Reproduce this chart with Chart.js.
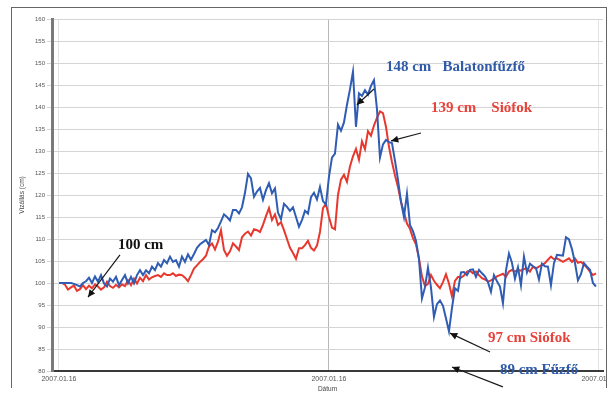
<!DOCTYPE html>
<html>
<head>
<meta charset="utf-8">
<script src="https://cdn.jsdelivr.net/npm/chart.js@4/dist/chart.umd.min.js"></script>
<style>
  html, body { margin: 0; padding: 0; background: #fff; }
  #wrap { position: relative; width: 611px; height: 396px; overflow: hidden; background: #fff; }
  #frame { position: absolute; left: 11px; top: 7px; width: 596px; height: 381px;
           border: 1.5px solid #666; border-bottom: none; box-sizing: border-box; }
  #c { position: absolute; left: 0; top: 0; }
</style>
</head>
<body>
<div id="wrap">
  <div id="frame"></div>
  <canvas id="c" width="606" height="396"></canvas>
</div>
<script>
// Time axis: hours from the first reading, one reading every 8 minutes
const sampleMinutes = 8;
const tickHours = [0, 12, 24];
const tickLabels = ['2007.01.16', '2007.01.16', '2007.01.17'];

// Water level (cm), Balatonfűzfő gauge
const balatonfuzfo = [
  100.0, 100.0, 100.0, 100.0, 100.0, 99.8, 99.5, 99.2, 100.0, 100.4,
  101.2, 100.0, 101.5, 100.3, 101.8, 99.9, 99.2, 101.0, 100.3, 101.4,
  99.5, 100.7, 101.8, 99.9, 101.4, 99.9, 101.8, 102.9, 101.8, 102.9,
  102.2, 103.7, 102.9, 104.5, 103.7, 105.2, 104.5, 106.0, 104.8, 105.2,
  103.7, 106.0, 104.8, 106.5, 105.3, 106.6, 108.0, 108.8, 109.3, 109.8,
  108.6, 112.0, 111.5, 112.5, 114.0, 115.6, 115.0, 114.2, 116.6, 116.6,
  115.8, 117.2, 120.5, 124.8, 123.8, 119.6, 120.8, 121.6, 118.9, 121.1,
  122.7, 120.4, 121.5, 116.0, 114.5, 118.0, 117.3, 116.4, 117.2, 115.0,
  112.8, 114.3, 116.4, 115.8, 119.5, 120.5, 119.0, 121.8, 118.6, 117.8,
  124.2, 128.5, 129.4, 136.0, 134.6, 136.5, 140.5, 144.0, 148.0, 135.5,
  143.1, 142.5, 143.8, 142.8, 144.8, 146.1, 139.5, 128.5, 131.5, 132.5,
  132.0, 131.8, 127.8, 123.5, 118.5, 115.0, 120.3, 113.2, 111.8, 109.6,
  105.5, 96.5, 99.0, 103.5, 99.0, 92.3, 95.2, 96.0, 94.8, 92.0,
  89.0, 94.3, 98.8, 98.2, 102.4, 102.5, 101.8, 103.0, 103.1, 101.4,
  103.0, 102.2, 101.5, 100.2, 98.0, 101.8, 100.4, 99.2, 95.4, 102.8,
  106.7, 104.6, 101.0, 103.6, 99.5, 106.0, 102.4, 104.4, 103.8, 103.4,
  100.8, 104.4, 103.8, 103.7, 99.5, 104.5, 106.4, 106.3, 106.2, 110.4,
  109.9, 107.7, 104.6, 100.6, 102.0, 104.5, 103.7, 103.0, 100.0, 99.2
];

// Water level (cm), Siófok gauge
const siofok = [
  100.0, 100.0, 99.6, 98.5, 99.0, 99.4, 98.2, 98.6, 99.5, 98.6,
  99.4, 98.8, 99.7, 99.2, 98.5, 99.0, 100.3, 99.3, 98.9, 99.6,
  99.0, 99.7, 99.3, 100.6, 99.5, 101.0, 99.9, 101.2, 100.4, 101.8,
  100.8, 101.3, 101.6, 101.8, 101.4, 102.2, 101.8, 101.8, 102.2, 101.6,
  101.9, 101.8, 101.2, 100.4, 101.8, 103.3, 104.0, 104.8, 105.4, 106.2,
  108.3, 109.0, 107.6, 109.4, 112.0, 107.5, 106.2, 107.2, 109.0, 108.3,
  107.5, 110.4, 111.2, 111.7, 110.8, 112.2, 112.0, 111.6, 113.2, 115.2,
  117.0, 114.3, 115.6, 113.2, 113.8, 112.0, 110.0, 108.0, 106.8, 105.5,
  107.9, 107.9, 108.6, 109.6, 108.0, 107.4, 108.5, 111.6, 117.0, 118.0,
  115.0, 112.6, 112.2, 120.0, 123.5, 124.6, 123.0, 126.5, 128.8, 130.5,
  128.0, 132.2, 130.4, 134.5, 133.5, 135.8, 137.5, 139.0, 138.6, 135.5,
  131.0, 127.5, 124.5, 121.8, 118.5, 116.0, 113.5, 112.3, 110.2, 108.8,
  105.6, 101.5, 99.3, 99.8, 101.8, 100.5, 99.6, 98.8, 100.2, 102.0,
  99.9, 97.0, 100.5, 101.4, 101.2, 101.7, 102.6, 102.8, 102.2, 102.6,
  101.8, 101.1, 100.8, 100.3, 100.6, 101.0, 101.5, 101.8, 102.1, 101.4,
  102.6, 103.0, 102.6, 103.0, 102.8, 103.2, 103.3, 102.6, 103.7, 103.3,
  103.7, 104.1, 104.5, 105.3, 106.0, 105.4, 105.6, 105.2, 104.8, 105.2,
  105.6, 104.8, 105.6, 104.6, 104.8, 104.2, 103.5, 102.6, 101.8, 102.2
];

// Callouts: text anchor [hours, cm] (left edge, vertical middle) and arrow [fromH, fromCm, toH, toCm]
const notes = [
  { text: '100 cm', color: '#111111', at: [2.62, 108.6], arrow: [2.71, 106.4, 1.29, 96.8] },
  { text: '148 cm   Balatonfűzfő', color: '#2f5aa8', at: [14.53, 149.1], arrow: [14.0, 144.1, 13.24, 140.5] },
  { text: '139 cm    Siófok', color: '#e8423a', at: [16.53, 139.8], arrow: [16.09, 134.1, 14.76, 132.3] },
  { text: '97 cm Siófok', color: '#e8423a', at: [19.07, 87.5], arrow: [19.16, 84.3, 17.38, 88.6] },
  { text: '89 cm Fűzfő', color: '#2f5aa8', at: [19.6, 80.2], arrow: [19.73, 76.4, 17.47, 80.9] }
];

const toPoints = arr => arr.map((v, i) => ({ x: i * sampleMinutes / 60, y: v }));

const calloutPlugin = {
  id: 'callouts',
  afterDatasetsDraw(chart) {
    const { ctx, scales: { x, y } } = chart;
    ctx.save();
    notes.forEach(n => {
      const x1 = x.getPixelForValue(n.arrow[0]), y1 = y.getPixelForValue(n.arrow[1]);
      const x2 = x.getPixelForValue(n.arrow[2]), y2 = y.getPixelForValue(n.arrow[3]);
      ctx.strokeStyle = '#1a1a1a';
      ctx.lineWidth = 1.2;
      ctx.beginPath();
      ctx.moveTo(x1, y1);
      ctx.lineTo(x2, y2);
      ctx.stroke();
      const a = Math.atan2(y2 - y1, x2 - x1);
      const head = 8;
      ctx.fillStyle = '#111';
      ctx.beginPath();
      ctx.moveTo(x2, y2);
      ctx.lineTo(x2 - head * Math.cos(a - 0.45), y2 - head * Math.sin(a - 0.45));
      ctx.lineTo(x2 - head * Math.cos(a + 0.45), y2 - head * Math.sin(a + 0.45));
      ctx.closePath();
      ctx.fill();

      ctx.font = 'bold 15px "Liberation Serif", "Times New Roman", serif';
      ctx.fillStyle = n.color;
      ctx.textAlign = 'left';
      ctx.textBaseline = 'middle';
      ctx.fillText(n.text, x.getPixelForValue(n.at[0]), y.getPixelForValue(n.at[1]));
    });
    ctx.restore();
  }
};

new Chart(document.getElementById('c'), {
  type: 'line',
  data: {
    datasets: [
      {
        label: 'Balatonfűzfő',
        data: toPoints(balatonfuzfo),
        borderColor: '#2f5db3',
        borderWidth: 2,
        pointRadius: 0,
        tension: 0
      },
      {
        label: 'Siófok',
        data: toPoints(siofok),
        borderColor: '#e8382e',
        borderWidth: 2,
        pointRadius: 0,
        tension: 0
      }
    ]
  },
  options: {
    responsive: false,
    animation: false,
    events: [],
    layout: { padding: { top: 19, right: 3, bottom: 0, left: 0 } },
    plugins: { legend: { display: false }, tooltip: { enabled: false } },
    scales: {
      x: {
        type: 'linear',
        min: -0.311,
        max: 24.18,
        afterBuildTicks: axis => { axis.ticks = tickHours.map(v => ({ value: v })); },
        afterFit: axis => { axis.height = 25; axis.paddingLeft = 0; axis.paddingRight = 0; },
        ticks: {
          autoSkip: false,
          maxRotation: 0,
          padding: 4,
          color: '#555',
          font: { family: '"Liberation Sans", Arial, sans-serif', size: 7 },
          callback: (v, i) => tickLabels[i]
        },
        grid: {
          color: c => (c.index === 1 ? '#b8b8b8' : '#e3e3e3'),
          lineWidth: 1,
          drawTicks: false
        },
        border: { color: '#3a3a3a', width: 2 },
        title: {
          display: true,
          text: 'Dátum',
          color: '#444',
          font: { family: '"Liberation Sans", Arial, sans-serif', size: 6.5 },
          padding: { top: 0, bottom: 3 }
        }
      },
      y: {
        min: 80,
        max: 160,
        afterFit: axis => { axis.width = 52; axis.paddingTop = 0; axis.paddingBottom = 0; },
        ticks: {
          stepSize: 5,
          padding: 2,
          color: '#555',
          font: { family: '"Liberation Sans", Arial, sans-serif', size: 6 }
        },
        grid: { color: '#d4d4d4', lineWidth: 1, tickLength: 5 },
        border: { color: '#7a7a7a', width: 3 },
        title: {
          display: true,
          text: 'Vízállás (cm)',
          color: '#444',
          font: { family: '"Liberation Sans", Arial, sans-serif', size: 6.5 },
          padding: { top: 18, bottom: 0 }
        }
      }
    }
  },
  plugins: [calloutPlugin]
});
</script>
</body>
</html>
